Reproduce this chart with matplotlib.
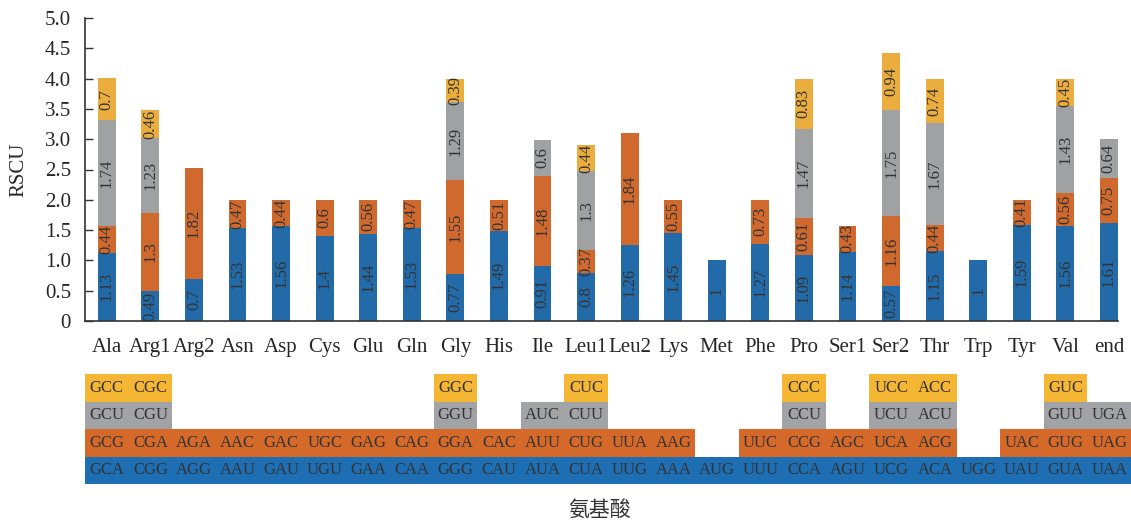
import numpy as np
import matplotlib.pyplot as plt

plt.rcParams['font.family'] = ['Liberation Serif', 'Noto Sans CJK SC']

amino = ['Ala', 'Arg1', 'Arg2', 'Asn', 'Asp', 'Cys', 'Glu', 'Gln', 'Gly', 'His', 'Ile', 'Leu1',
         'Leu2', 'Lys', 'Met', 'Phe', 'Pro', 'Ser1', 'Ser2', 'Thr', 'Trp', 'Tyr', 'Val', 'end']

# RSCU of each codon, stacked from the bottom: 1st, 2nd, 3rd, 4th codon (0 = none)
rscu1 = [1.13, 0.49, 0.7, 1.53, 1.56, 1.4, 1.44, 1.53, 0.77, 1.49, 0.91, 0.8,
         1.26, 1.45, 1, 1.27, 1.09, 1.14, 0.57, 1.15, 1, 1.59, 1.56, 1.61]
rscu2 = [0.44, 1.3, 1.82, 0.47, 0.44, 0.6, 0.56, 0.47, 1.55, 0.51, 1.48, 0.37,
         1.84, 0.55, 0, 0.73, 0.61, 0.43, 1.16, 0.44, 0, 0.41, 0.56, 0.75]
rscu3 = [1.74, 1.23, 0, 0, 0, 0, 0, 0, 1.29, 0, 0.6, 1.3,
         0, 0, 0, 0, 1.47, 0, 1.75, 1.67, 0, 0, 1.43, 0.64]
rscu4 = [0.7, 0.46, 0, 0, 0, 0, 0, 0, 0.39, 0, 0, 0.44,
         0, 0, 0, 0, 0.83, 0, 0.94, 0.74, 0, 0, 0.45, 0]

codon1 = ['GCA', 'CGG', 'AGG', 'AAU', 'GAU', 'UGU', 'GAA', 'CAA', 'GGG', 'CAU', 'AUA', 'CUA',
          'UUG', 'AAA', 'AUG', 'UUU', 'CCA', 'AGU', 'UCG', 'ACA', 'UGG', 'UAU', 'GUA', 'UAA']
codon2 = ['GCG', 'CGA', 'AGA', 'AAC', 'GAC', 'UGC', 'GAG', 'CAG', 'GGA', 'CAC', 'AUU', 'CUG',
          'UUA', 'AAG', '', 'UUC', 'CCG', 'AGC', 'UCA', 'ACG', '', 'UAC', 'GUG', 'UAG']
codon3 = ['GCU', 'CGU', '', '', '', '', '', '', 'GGU', '', 'AUC', 'CUU',
          '', '', '', '', 'CCU', '', 'UCU', 'ACU', '', '', 'GUU', 'UGA']
codon4 = ['GCC', 'CGC', '', '', '', '', '', '', 'GGC', '', '', 'CUC',
          '', '', '', '', 'CCC', '', 'UCC', 'ACC', '', '', 'GUC', '']

bar_cols = ['#236aa9', '#d0692e', '#a0a1a3', '#ebae3e']
tab_cols = ['#1e6eb4', '#d5692a', '#a2a3a6', '#f5b634']
txt = '#333333'

fig = plt.figure(figsize=(11.31, 5.22), dpi=100)
ax = fig.add_axes([85/1131, 201/522, (1118-85)/1131, 303/522])

x = np.arange(len(amino))
series = [rscu1, rscu2, rscu3, rscu4]
bottom = np.zeros(len(amino))
for s, c in zip(series, bar_cols):
    v = np.array(s, dtype=float)
    ax.bar(x, v, 0.41, bottom=bottom, color=c, linewidth=0)
    for xi, b, h in zip(x, bottom, v):
        if h > 0:
            ax.text(xi, b + h/2, '%g' % h, rotation=90, ha='center', va='center',
                    fontsize=12, color=txt)
    bottom = bottom + v

ax.set_xlim(-0.5, 23.21)
ax.set_ylim(0, 5.0)
ax.set_yticks(np.arange(0, 5.01, 0.5))
ax.set_yticklabels(['0'] + ['%.1f' % t for t in np.arange(0.5, 5.01, 0.5)])
ax.set_xticks(x)
ax.set_xticklabels(amino)
ax.tick_params(axis='y', direction='in', length=6, width=1, color='#333333',
               labelsize=15, labelcolor='#262626', pad=10)
ax.tick_params(axis='x', length=0, labelsize=15, labelcolor='#262626', pad=12)
for k in ['top', 'right']:
    ax.spines[k].set_visible(False)
for k in ['left', 'bottom']:
    ax.spines[k].set_color('#333333')
    ax.spines[k].set_linewidth(1.2)
ax.set_ylabel('RSCU', fontsize=15, color='#262626', labelpad=12)

# codon table under the bars
tb = fig.add_axes([85/1131, 38/522, 1046/1131, 110/522])
tb.set_xlim(-0.5, 23.5)
tb.set_ylim(0, 4)
tb.axis('off')
for r, (cods, c) in enumerate(zip([codon1, codon2, codon3, codon4], tab_cols)):
    # merge neighbouring cells into one band
    j = 0
    while j < len(cods):
        if cods[j]:
            k = j
            while k + 1 < len(cods) and cods[k + 1]:
                k += 1
            tb.add_patch(plt.Rectangle((j - 0.5, r), k - j + 1, 1.0, facecolor=c,
                                       linewidth=0))
            j = k + 1
        else:
            j += 1
    for j, cd in enumerate(cods):
        if cd:
            tb.text(j, r + 0.5, cd, ha='center', va='center', fontsize=12, color=txt)

fig.text(0.53, 0.023, '氨基酸', ha='center', va='center', fontsize=15,
         color='#333333', family=['Noto Sans CJK SC'])

fig.savefig('out.png', dpi=100)
